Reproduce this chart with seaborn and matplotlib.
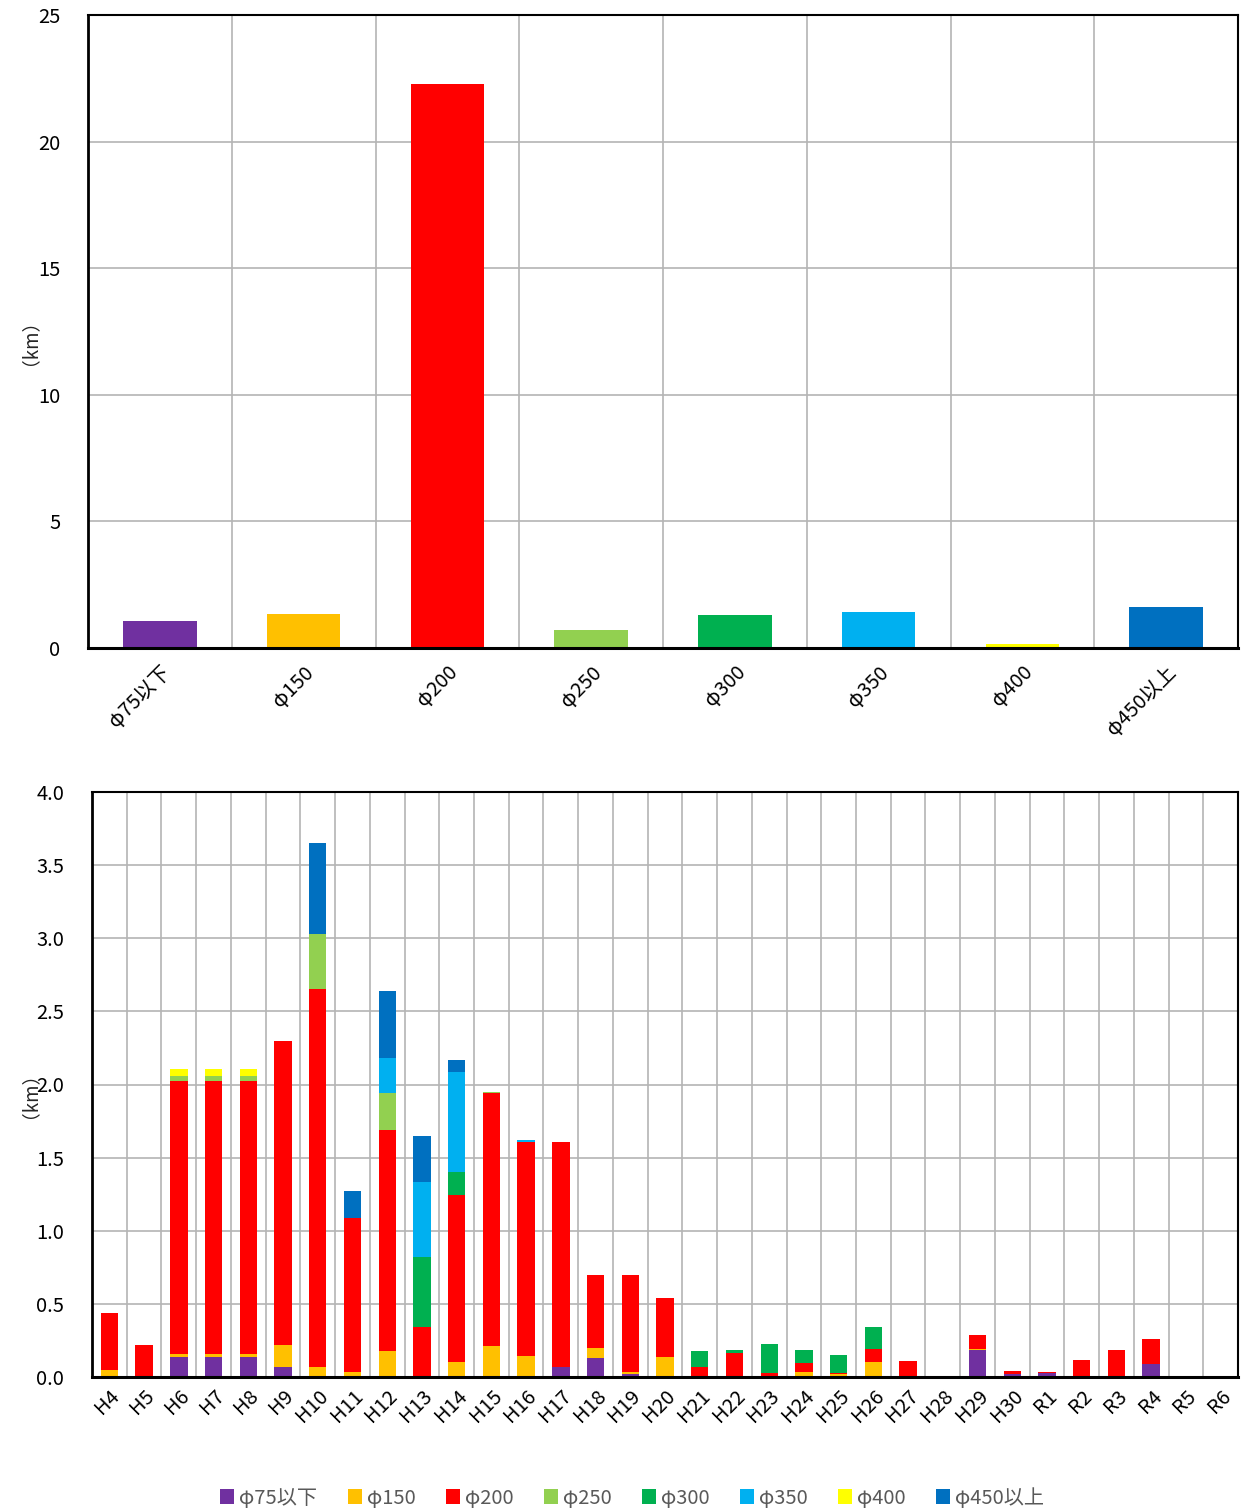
import numpy as np
import pandas as pd
import matplotlib
matplotlib.use("Agg")
import matplotlib.pyplot as plt
import seaborn as sns
from matplotlib.ticker import FixedLocator

sns.set_theme(style="white")
plt.rcParams['font.family'] = ['Noto Sans CJK JP', 'DejaVu Sans']

# pipe diameter classes
sizes = ['φ75以下', 'φ150', 'φ200', 'φ250', 'φ300', 'φ350', 'φ400', 'φ450以上']
size_colors = ['#7030A0', '#FFC000', '#FF0000', '#92D050',
               '#00B050', '#00B0F0', '#FFFF00', '#0070C0']

# top chart: total length per diameter (km)
total_km = [1.07, 1.34, 22.27, 0.71, 1.30, 1.42, 0.15, 1.62]

# bottom chart: length per fiscal year (km)
years = ['H4', 'H5', 'H6', 'H7', 'H8', 'H9', 'H10', 'H11', 'H12', 'H13', 'H14',
         'H15', 'H16', 'H17', 'H18', 'H19', 'H20', 'H21', 'H22', 'H23', 'H24',
         'H25', 'H26', 'H27', 'H28', 'H29', 'H30', 'R1', 'R2', 'R3', 'R4', 'R5', 'R6']

d75 = [0, 0, 0.14, 0.14, 0.14, 0.07, 0, 0, 0, 0, 0,
       0, 0.01, 0.07, 0.13, 0.02, 0, 0, 0, 0, 0,
       0.01, 0, 0, 0, 0.187, 0.02, 0.027, 0, 0, 0.091, 0, 0]
d150 = [0.05, 0, 0.016, 0.016, 0.016, 0.15, 0.07, 0.035, 0.18, 0, 0.105,
        0.21, 0.135, 0, 0.07, 0.015, 0.14, 0.01, 0, 0, 0.034,
        0.01, 0.10, 0, 0, 0.007, 0, 0, 0, 0, 0, 0, 0]
d200 = [0.39, 0.22, 1.87, 1.87, 1.87, 2.08, 2.58, 1.055, 1.51, 0.34, 1.14,
        1.73, 1.465, 1.54, 0.50, 0.66, 0.40, 0.055, 0.166, 0.027, 0.062,
        0.005, 0.09, 0.11, 0, 0.09, 0.019, 0.005, 0.114, 0.182, 0.171, 0, 0]
d250 = [0, 0, 0.03, 0.03, 0.03, 0, 0.38, 0, 0.25, 0, 0,
        0.007, 0, 0, 0, 0, 0, 0, 0, 0, 0,
        0, 0, 0, 0, 0, 0, 0, 0, 0, 0, 0, 0]
d300 = [0, 0, 0, 0, 0, 0, 0, 0, 0, 0.48, 0.16,
        0, 0, 0, 0, 0, 0, 0.11, 0.016, 0.20, 0.09,
        0.123, 0.155, 0, 0, 0, 0, 0, 0, 0, 0, 0, 0]
d350 = [0, 0, 0, 0, 0, 0, 0, 0, 0.24, 0.51, 0.68,
        0, 0.013, 0, 0, 0, 0, 0, 0, 0, 0,
        0, 0, 0, 0, 0, 0, 0, 0, 0, 0, 0, 0]
d400 = [0, 0, 0.05, 0.05, 0.05, 0, 0, 0, 0, 0, 0,
        0, 0, 0, 0, 0, 0, 0, 0, 0, 0,
        0, 0, 0, 0, 0, 0, 0, 0, 0, 0, 0, 0]
d450 = [0, 0, 0, 0, 0, 0, 0.62, 0.18, 0.46, 0.32, 0.08,
        0, 0, 0, 0, 0, 0, 0, 0, 0, 0,
        0, 0, 0, 0, 0, 0, 0, 0, 0, 0, 0, 0]
by_size = [d75, d150, d200, d250, d300, d350, d400, d450]

fs = 14.5
grid_c = '#b4b4b4'

fig = plt.figure(figsize=(12.42, 15.12), dpi=100)
W, H = 1242, 1512
ax1 = fig.add_axes([88 / W, 1 - 648 / H, (1238 - 88) / W, (648 - 15) / H])
ax2 = fig.add_axes([92 / W, 1 - 1377 / H, (1238 - 92) / W, (1377 - 792) / H])

#---------------------------------------------------------------------------
# top: total per diameter
df_top = pd.DataFrame({'size': sizes, 'km': total_km})
sns.barplot(data=df_top, x='size', y='km', hue='size', palette=size_colors,
            saturation=1, width=0.51, errorbar=None, legend=False, ax=ax1,
            linewidth=0)
ax1.set_ylim(0, 25)
ax1.set_yticks(np.arange(0, 26, 5))
ax1.set_yticklabels([str(v) for v in range(0, 26, 5)])

#---------------------------------------------------------------------------
# bottom: stacked by year
bottom = np.zeros(len(years))
for name, vals, c in zip(sizes, by_size, size_colors):
    df_y = pd.DataFrame({'year': years, 'km': vals})
    sns.barplot(data=df_y, x='year', y='km', color=c, saturation=1, width=0.5,
                errorbar=None, bottom=bottom, label=name, ax=ax2, linewidth=0)
    bottom = bottom + np.array(vals)
if ax2.get_legend() is not None:
    ax2.get_legend().remove()
ax2.set_ylim(0, 4.0)
ax2.set_yticks(np.arange(0, 4.01, 0.5))
ax2.set_yticklabels([f'{v:.1f}' for v in np.arange(0, 4.01, 0.5)])

for ax, n, xpad in [(ax1, len(sizes), 10), (ax2, len(years), 6)]:
    ax.set_xlim(-0.5, n - 0.5)
    ax.xaxis.set_minor_locator(FixedLocator(np.arange(0.5, n - 0.5, 1)))
    ax.grid(False)
    ax.grid(True, axis='y', which='major', color=grid_c, linewidth=1.2)
    ax.grid(True, axis='x', which='minor', color=grid_c, linewidth=1.2)
    ax.set_axisbelow(True)
    ax.tick_params(axis='both', which='both', length=0, labelsize=fs,
                   labelcolor='black')
    ax.tick_params(axis='y', pad=20)
    ax.tick_params(axis='x', pad=xpad)
    for lab in ax.get_xticklabels():
        lab.set_rotation(45)
        lab.set_ha('right')
        lab.set_rotation_mode('anchor')
    for s in ax.spines.values():
        s.set_color('black')
        s.set_linewidth(1.5)
    ax.spines['bottom'].set_linewidth(2.2)
    ax.spines['left'].set_linewidth(2.0)
    ax.set_xlabel('')
    ax.set_ylabel('')

fig.text(20 / W, 1 - 332 / H, '（km）', rotation=90, ha='center', va='center',
         fontsize=fs - 1)
fig.text(20 / W, 1 - 1085 / H, '（km）', rotation=90, ha='center', va='center',
         fontsize=fs - 1)

handles, labels = ax2.get_legend_handles_labels()
fig.legend(handles, labels, loc='center', bbox_to_anchor=(632 / W, 1 - 1498 / H),
           ncol=8, frameon=False, fontsize=fs, handlelength=0.7,
           handleheight=0.7, handletextpad=0.25, columnspacing=1.5,
           labelcolor='#595959')

fig.savefig('out.png', dpi=100)
